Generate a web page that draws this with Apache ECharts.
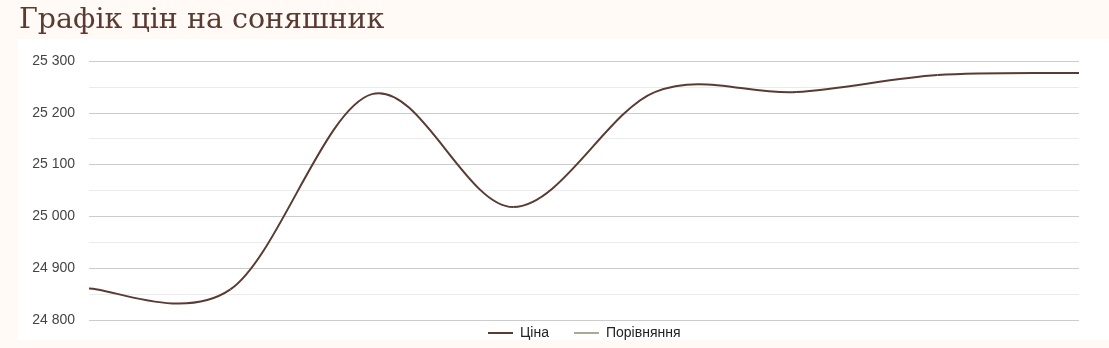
<!DOCTYPE html>
<html>
<head>
<meta charset="utf-8">
<script src="https://cdn.jsdelivr.net/npm/echarts@6/dist/echarts.min.js"></script>
<style>
html,body{margin:0;padding:0;background:#fffaf5;}
#c{width:1109px;height:348px;}
</style>
</head>
<body>
<div id="c"></div>
<script>
const titleText = 'Графік цін на соняшник';
const categories = ['1','2','3','4','5','6','7','8'];
const priceValues = [24861, 24859, 25236, 25018, 25240, 25240, 25273, 25277];
const compareValues = [];
const seriesNames = ['Ціна', 'Порівняння'];
const yMin = 24800, yMax = 25300, yStep = 100;
const smoothK = 1 / 6;

function splineSegments(pts) {
  // uniform Catmull-Rom curve through the points (pixel coords from the library's scales)
  const n = pts.length, segs = [];
  for (let i = 0; i < n - 1; i++) {
    const p0 = pts[Math.max(0, i - 1)], p1 = pts[i], p2 = pts[i + 1], p3 = pts[Math.min(n - 1, i + 2)];
    segs.push({
      type: 'bezierCurve',
      shape: {
        x1: p1[0], y1: p1[1],
        cpx1: p1[0] + (p2[0] - p0[0]) * smoothK, cpy1: p1[1] + (p2[1] - p0[1]) * smoothK,
        cpx2: p2[0] - (p3[0] - p1[0]) * smoothK, cpy2: p2[1] - (p3[1] - p1[1]) * smoothK,
        x2: p2[0], y2: p2[1]
      },
      style: {stroke: '#5a3b33', lineWidth: 2, fill: null}
    });
  }
  return segs;
}

const chart = echarts.init(document.getElementById('c'), null, {renderer:'canvas'});
chart.setOption({
  backgroundColor: '#fffaf5',
  animation: false,
  graphic: [{
    type: 'rect', left: 18, top: 39, z: -10,
    shape: {width: 1091, height: 301},
    style: {fill: '#ffffff'}
  }],
  title: {
    text: titleText, left: 14, top: 1,
    textStyle: {fontFamily: 'DejaVu Serif', fontWeight: 'normal', fontSize: 28.5, color: '#5a3b33'}
  },
  legend: {
    left: 483, top: 321, itemWidth: 25, itemHeight: 2, itemGap: 25,
    icon: 'rect',
    textStyle: {fontFamily: 'Liberation Sans', fontSize: 14, color: '#222', padding: [0, 0, 0, 2]},
    data: seriesNames
  },
  grid: {left: 89, right: 30, top: 61, bottom: 28},
  xAxis: {
    type: 'category', data: categories, boundaryGap: false, show: false
  },
  yAxis: {
    type: 'value', min: yMin, max: yMax, interval: yStep,
    axisLine: {show: false}, axisTick: {show: false},
    axisLabel: {
      margin: 14, color: '#444', fontFamily: 'Liberation Sans', fontSize: 14,
      formatter: v => String(v).replace(/\B(?=(\d{3})+(?!\d))/g, ' ')
    },
    splitLine: {lineStyle: {color: '#cccccc', width: 1}},
    minorTick: {show: false, splitNumber: 2},
    minorSplitLine: {show: true, lineStyle: {color: '#ebebeb', width: 1}}
  },
  series: [
    {name: seriesNames[0], type: 'custom',
     data: priceValues.map((v, i) => [i, v]),
     encode: {x: 0, y: 1},
     itemStyle: {color: '#5a3b33'},
     renderItem: function (params, api) {
       if (params.dataIndex !== 0) return null;
       const pts = priceValues.map((v, i) => api.coord([i, v]));
       return {type: 'group', children: splineSegments(pts)};
     }},
    {name: seriesNames[1], type: 'line', data: compareValues, showSymbol: false,
     lineStyle: {color: '#a9a998', width: 2}, itemStyle: {color: '#a9a998'}}
  ]
});
</script>
</body>
</html>
